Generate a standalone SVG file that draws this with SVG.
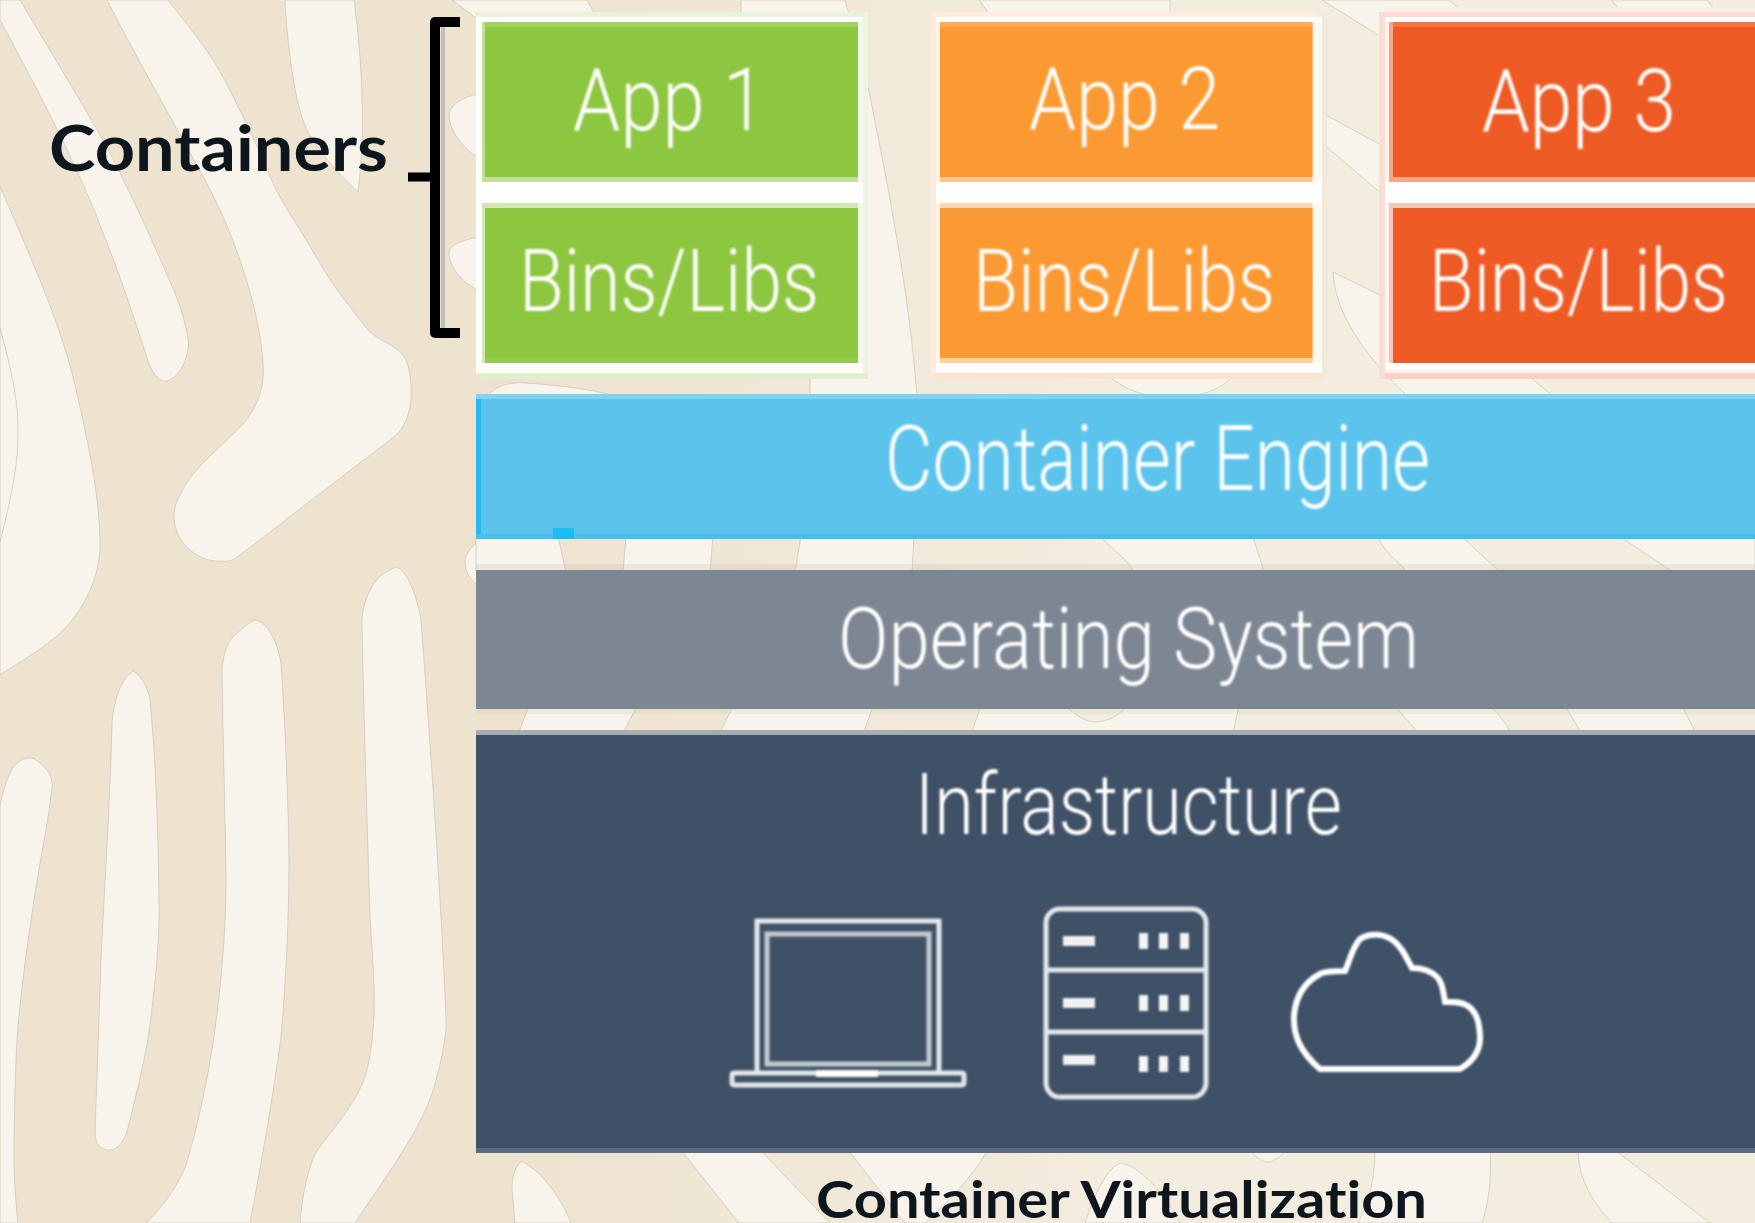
<svg xmlns="http://www.w3.org/2000/svg" width="1755" height="1223" viewBox="0 0 1755 1223">
<style>
.w{fill:#F8F4EB;stroke:#C8C3B7;stroke-width:.7}
.t{font-family:Roboto,"Liberation Sans",sans-serif;font-weight:300;fill:#fff;filter:url(#soft)}
.l{font-family:Lato,"Open Sans","Liberation Sans",sans-serif;font-weight:700;fill:#10131c;filter:url(#soft3);font-variant-ligatures:none}
.ic{fill:none;stroke:#E4E8EB;stroke-width:5}
.dot{fill:#F4F5F6}
</style>
<defs>
<linearGradient id="bg" x1="0" x2="1" y1="0" y2="0"><stop offset=".3" stop-color="#EEE3CF"/><stop offset=".65" stop-color="#F3EDE0"/></linearGradient>
<filter id="soft" x="-5%" y="-5%" width="110%" height="110%"><feGaussianBlur stdDeviation=".9"/></filter>
<filter id="soft2" x="-5%" y="-5%" width="110%" height="110%"><feGaussianBlur stdDeviation=".9"/></filter>
<filter id="soft3" x="-5%" y="-5%" width="110%" height="110%"><feGaussianBlur stdDeviation=".4"/></filter>
</defs>
<g id="background">
<rect width="1755" height="1223" fill="url(#bg)"/>
<path class="w" d="M0 0V20C35 85 75 160 100 225C120 275 135 320 147 358C152 373 158 381 165 381C177 381 191 358 188 338C184 315 176 294 168 277C150 235 120 170 100 135C80 100 45 42 20 0Z"/>
<path class="w" d="M107 0C135 55 175 125 205 180C235 235 260 310 263 364C266 395 250 418 236 431C215 452 195 468 185 486C178 498 174 505 174 516C174 540 195 561 218 561C226 561 230 563 240 555L395 436C408 425 412 405 411 387C410 370 408 358 398 350C388 342 378 340 368 330C345 300 335 290 314 253C295 220 282 205 269 174C255 140 240 110 224 79C210 52 190 28 168 0Z"/>
<path class="w" d="M285 0C287 40 292 75 297 99C302 120 306 130 314 142C330 165 345 180 358 192C362 160 363 130 362 99C361 60 358 30 354 0Z"/>
<path class="w" d="M0 186C25 245 60 320 75 385C90 450 100 500 100 546C100 570 90 595 78 612C60 640 30 655 0 675Z"/>
<path class="w" d="M0 328C10 365 19 400 18 435C18 470 8 510 0 542Z"/>
<path class="w" d="M0 806C4 785 10 770 16 764C22 758 30 756 36 760C46 767 53 775 52 787C48 825 40 860 34 900C25 960 20 1000 17 1040C15 1080 14 1120 14 1156C14 1180 16 1205 18 1223H0Z"/>
<path class="w" d="M133 671C122 678 113 700 112 725C110 800 105 880 101 958C99 1020 97 1075 95 1132C95 1145 102 1150 109 1150C118 1150 124 1142 128 1128C140 1080 147 1050 151 1017C156 975 160 935 159 898C158 820 155 750 150 700C147 685 141 675 133 671Z"/>
<path class="w" d="M255 620C247 623 240 631 234 636C226 643 222 660 222 672C223 740 225 810 226 878C226 920 223 960 219 997C212 1060 200 1120 185 1168C175 1190 160 1210 146 1223H250C262 1160 274 1090 281 1037C286 980 289 920 289 858C288 790 285 720 281 664C278 640 265 620 255 620Z"/>
<path class="w" d="M396 567C386 572 378 575 370 590C364 603 362 612 362 625C364 720 367 820 370 918C373 960 375 990 374 1017C372 1045 370 1060 365 1077C352 1112 326 1135 314 1156C305 1180 302 1200 300 1223H355C390 1170 425 1125 436 1080C444 1050 447 1030 446 1017C440 880 430 740 421 620C418 600 408 570 396 567Z"/>
<path class="w" d="M480 93C462 98 449 105 449 115C449 128 462 150 480 158Z"/>
<path class="w" d="M480 237C462 240 449 245 449 253C449 268 465 285 480 291Z"/>
<path class="w" d="M480 539C470 548 465 555 465 562C465 572 470 580 480 587Z"/>
<path class="w" d="M452 0L476 18H597L587 0Z"/>
<path class="w" d="M741 0H845L850 18H741Z"/>
<path class="w" d="M979 0H1170V18H992Z"/>
<path class="w" d="M1322 0H1449L1470 18H1400L1383 38Z"/>
<path class="w" d="M1611 0H1707L1722 18H1628Z"/>
<path class="w" d="M863 62C875 120 895 220 905 290C912 340 915 370 917 396H810V62Z"/>
<path class="w" d="M1322 113L1383 146V195L1322 143Z"/>
<path class="w" d="M1333 272L1390 300L1524 372L1553 396H1407C1375 365 1335 320 1333 272Z"/>
<path class="w" d="M487 396C497 385 510 382 525 383C560 385 600 390 628 400H487Z"/>
<path class="w" d="M1107 375C1125 390 1145 397 1170 398C1195 397 1222 392 1232 375Z"/>
<path class="w" d="M476 536H558L566 572H476Z"/>
<path class="w" d="M626 536H713L710 572H623Z"/>
<path class="w" d="M801 536H914L912 572H795Z"/>
<path class="w" d="M1101 536H1253C1256 550 1262 560 1263 572H1134C1125 555 1110 550 1101 536Z"/>
<path class="w" d="M1378 536H1461L1500 572H1407C1392 555 1382 550 1378 536Z"/>
<path class="w" d="M1619 536H1755V572H1673Z"/>
<path class="w" d="M529 706H637L621 737H517Z"/>
<path class="w" d="M733 706H873L862 737H718Z"/>
<path class="w" d="M981 706H1066C1080 720 1090 722 1096 722C1105 722 1120 716 1126 706H1239L1232 737H970Z"/>
<path class="w" d="M1395 706H1490C1505 720 1510 730 1511 737H1422Z"/>
<path class="w" d="M1565 706H1682L1698 737H1584Z"/>
<path class="w" d="M681 1150H760L830 1223H739Z"/>
<path class="w" d="M848 1150H988C970 1180 945 1205 925 1223H905Z"/>
<path class="w" d="M1250 1150C1258 1160 1265 1163 1270 1162C1276 1160 1282 1156 1285 1150Z"/>
<path class="w" d="M521 1161C513 1170 512 1180 512 1190L515 1223H571C560 1195 540 1170 521 1161Z"/>
<path class="w" d="M1120 1163C1105 1170 1095 1195 1085 1223H1180C1165 1195 1140 1165 1120 1163Z"/>
<path class="w" d="M1375 1150H1490C1492 1180 1488 1205 1482 1223H1358C1370 1200 1375 1175 1375 1150Z"/>
<path class="w" d="M1578 1150H1615L1710 1223H1612C1590 1200 1578 1175 1578 1150Z"/>
</g>
<g id="app1-stack">
<rect x="475" y="12" width="389" height="5" fill="#E8F3DA"/>
<rect x="481" y="373" width="387" height="6" fill="#E2EECE"/>
<rect x="863" y="12" width="5" height="361" fill="#F0F2E2"/>
<rect x="476" y="17" width="387" height="356" fill="#fff"/>
<rect x="858" y="22" width="5" height="160" fill="#F1F7E9"/>
<rect x="858" y="203" width="5" height="160" fill="#F1F7E9"/>
<rect x="476" y="363" width="387" height="10" fill="#FBFDF8"/>
</g>
<g id="app1">
<rect x="482" y="22" width="376" height="160" fill="#C2DF98"/>
<rect x="485" y="27" width="373" height="150" fill="#8DC63F"/>
<rect x="485" y="22" width="373" height="5" fill="#A1D160"/>
<text class="t" x="573" y="130" font-size="87" textLength="192" lengthAdjust="spacingAndGlyphs">App 1</text>
</g>
<g id="bins1">
<rect x="482" y="203" width="376" height="160" fill="#D2E7B5"/>
<rect x="485" y="208" width="373" height="150" fill="#8DC63F"/>
<rect x="485" y="358" width="373" height="5" fill="#97CB4E"/>
<text class="t" x="519" y="311" font-size="88" textLength="300" lengthAdjust="spacingAndGlyphs">Bins/Libs</text>
</g>
<g id="app2-stack">
<rect x="931" y="12" width="386" height="361" fill="#FEEDDC"/>
<rect x="934" y="373" width="388" height="6" fill="#FDE3CB"/>
<rect x="1322" y="12" width="5" height="367" fill="#F1EADC"/>
<rect x="936" y="17" width="386" height="356" fill="#fff"/>
<rect x="936" y="22" width="4" height="160" fill="#FEF3E7"/>
<rect x="936" y="203" width="4" height="160" fill="#FEF3E7"/>
<rect x="1312" y="22" width="10" height="160" fill="#FFF8EF"/>
<rect x="1312" y="203" width="10" height="160" fill="#FFF8EF"/>
</g>
<g id="app2">
<rect x="940" y="22" width="372.500" height="160" fill="#FCC68E"/>
<rect x="940" y="27" width="372.500" height="150" fill="#FB9A32"/>
<rect x="940" y="22" width="372.500" height="5" fill="#FCAB58"/>
<text class="t" x="1029" y="128.500" font-size="87" textLength="191" lengthAdjust="spacingAndGlyphs">App 2</text>
</g>
<g id="bins2">
<rect x="940" y="203" width="372.500" height="160" fill="#FDD6AD"/>
<rect x="940" y="208" width="372.500" height="150" fill="#FB9A32"/>
<rect x="940" y="358" width="372.500" height="5" fill="#FBD09B"/>
<text class="t" x="973" y="311" font-size="88" textLength="302" lengthAdjust="spacingAndGlyphs">Bins/Libs</text>
</g>
<g id="app3-stack">
<rect x="1384" y="7" width="371" height="5" fill="#F8EFE7"/>
<rect x="1379" y="12" width="376" height="367" fill="#F8DED3"/>
<rect x="1379" y="12" width="376" height="5" fill="#FBDBD1"/>
<rect x="1385" y="373" width="370" height="6" fill="#FAD0C3"/>
<rect x="1385" y="17" width="370" height="356" fill="#fff"/>
<rect x="1385" y="22" width="4" height="160" fill="#FEF3EE"/>
<rect x="1385" y="203" width="4" height="160" fill="#FEF3EE"/>
<rect x="1385" y="369" width="370" height="4" fill="#FEF3EE"/>
</g>
<g id="app3">
<rect x="1389" y="22" width="366" height="160" fill="#F6A585"/>
<rect x="1393" y="27" width="362" height="150" fill="#EE5A24"/>
<rect x="1393" y="22" width="362" height="5" fill="#F17547"/>
<text class="t" x="1482" y="130.500" font-size="87" textLength="194" lengthAdjust="spacingAndGlyphs">App 3</text>
</g>
<g id="bins3">
<rect x="1389" y="203" width="366" height="160" fill="#F9C7B5"/>
<rect x="1393" y="208" width="362" height="155" fill="#EE5A24"/>
<text class="t" x="1429" y="311" font-size="88" textLength="299" lengthAdjust="spacingAndGlyphs">Bins/Libs</text>
</g>
<g id="engine">
<rect x="476" y="394" width="1279" height="5" fill="#7FD2F0"/>
<rect x="476" y="399" width="1279" height="140" fill="#5BC3EC"/>
<rect x="476" y="399" width="5" height="140" fill="#2BB8EE"/>
<rect x="476" y="534" width="1279" height="5" fill="#45BFEE"/>
<rect x="553" y="528" width="21" height="11" fill="#19BDEF"/>
<text class="t" x="885" y="490" font-size="90" textLength="545" lengthAdjust="spacingAndGlyphs">Container Engine</text>
</g>
<g id="os">
<rect x="476" y="564" width="1279" height="6" fill="#B9B4AA" opacity=".2"/>
<rect x="476" y="570" width="1279" height="139" fill="#7D8693"/>
<rect x="476" y="709" width="1279" height="5" fill="#B9B4AA" opacity=".15"/>
<text class="t" x="838" y="668" font-size="85" textLength="581" lengthAdjust="spacingAndGlyphs">Operating System</text>
</g>
<g id="infrastructure">
<rect x="476" y="730" width="1279" height="5" fill="#A6ACAF"/>
<rect x="476" y="735" width="1279" height="413" fill="#3F5167"/>
<rect x="476" y="1148" width="1279" height="5" fill="#5D6B7E"/>
<text class="t" x="915" y="834" font-size="85" textLength="427" lengthAdjust="spacingAndGlyphs">Infrastructure</text>
<g id="icon-laptop" filter="url(#soft2)">
<path class="ic" d="M757 1071V921H939V1071"/>
<path class="ic" stroke-opacity=".8" d="M767 1064V934H929V1064Z"/>
<rect class="ic" x="732" y="1073" width="232" height="12" rx="2"/>
<rect x="816" y="1070" width="62" height="7" fill="#fff"/>
</g>
<g id="icon-server" filter="url(#soft2)">
<rect class="ic" x="1046" y="909" width="160" height="188" rx="14"/>
<path class="ic" stroke-width="6" d="M1046 970H1206M1046 1032H1206"/>
<path fill="#F1F2F3" d="M1063 936h32v10h-32zM1063 998h32v10h-32zM1063 1055h32v10h-32z"/>
<path class="dot" d="M1139 933h9v16h-9zM1159 933h9v16h-9zM1180 933h9v16h-9zM1139 995h9v16h-9zM1159 995h9v16h-9zM1180 995h9v16h-9zM1139 1056h9v16h-9zM1159 1056h9v16h-9zM1180 1056h9v16h-9z"/>
</g>
<g id="icon-cloud" filter="url(#soft2)">
<path fill="none" stroke="#fff" stroke-width="6" d="M1320 1069H1460C1472 1062 1481 1052 1480 1035C1479 1020 1476 1012 1468 1006C1460 1001 1452 1002 1445 1002C1443 990 1442 982 1437 977C1430 970 1420 968 1412 968C1405 955 1402 948 1394 941C1385 934 1370 932 1360 939C1352 948 1350 960 1345 971C1335 971 1325 971 1320 974C1305 982 1296 995 1294 1015C1293 1035 1300 1052 1320 1069Z"/>
</g>
</g>
<g id="connectors">
<path fill="none" stroke="#C4C0B8" stroke-width="4" d="M443 26V333"/>
<path fill="none" stroke="#000" stroke-width="10" stroke-linejoin="round" d="M460 22H435V333H460"/>
<path fill="none" stroke="#000" stroke-width="9" d="M408 177H432"/>
</g>
<g id="label-containers"><text class="l" x="49" y="171" font-size="64" textLength="339" lengthAdjust="spacingAndGlyphs">Containers</text></g>
<g id="label-virtualization"><text class="l" x="816" y="1218" font-size="52" textLength="611" lengthAdjust="spacingAndGlyphs">Container Virtualization</text></g>
</svg>
